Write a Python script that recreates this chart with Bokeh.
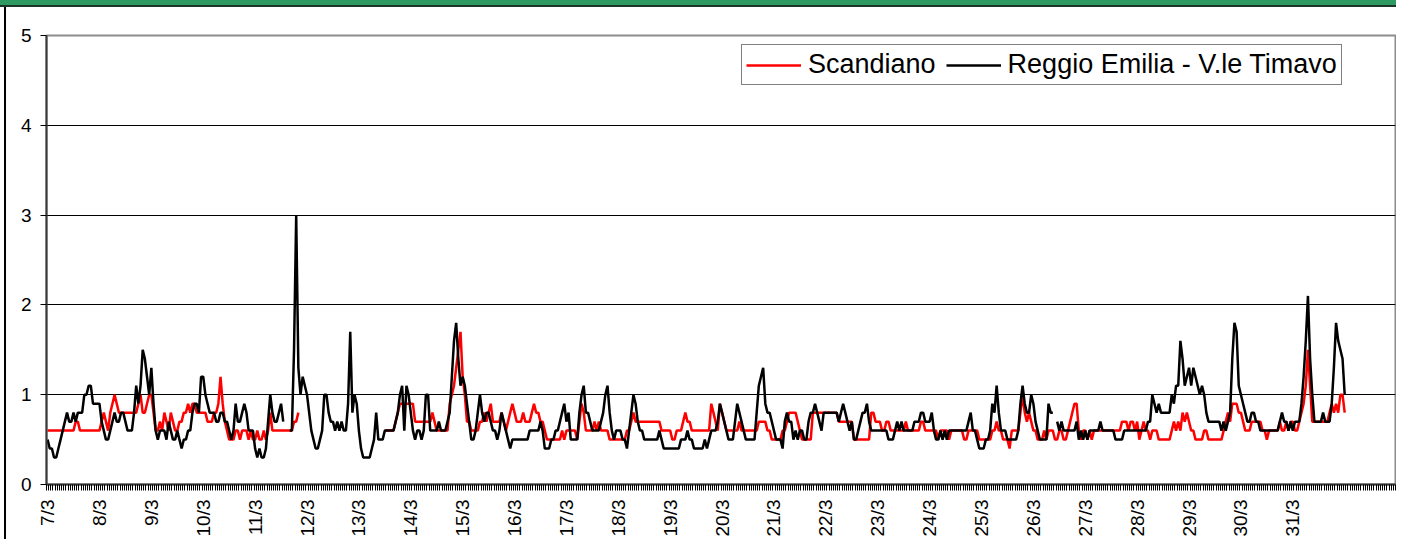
import math
from bokeh.plotting import figure
from bokeh.models import Range1d, FixedTicker, Legend, LegendItem
from bokeh.embed import file_html
from bokeh.resources import INLINE

NA = float("nan")

# one label per day (each day = 24 hourly categories)
day_labels = ["7/3", "8/3", "9/3", "10/3", "11/3", "12/3", "13/3", "14/3", "15/3",
              "16/3", "17/3", "18/3", "19/3", "20/3", "21/3", "22/3", "23/3", "24/3",
              "25/3", "26/3", "27/3", "28/3", "29/3", "30/3", "31/3"]
n_categories = 624

# hourly values, one line per day
scandiano = [
    0.6,0.6,0.6,0.6,0.6,0.6,0.6,0.6,0.6,0.6,0.6,0.6,0.6,0.7,0.7,0.6,0.6,0.6,0.6,0.6,0.6,0.6,0.6,0.6,
    0.6,0.7,0.8,0.7,0.6,0.8,0.9,1.0,0.9,0.8,0.8,0.8,0.8,0.8,0.8,0.8,0.8,0.8,0.9,1.0,0.8,0.8,0.9,1.0,
    1.0,0.8,0.6,0.6,0.7,0.6,0.8,0.7,0.6,0.8,0.7,0.6,0.6,0.7,0.7,0.8,0.8,0.9,0.8,0.9,0.9,0.8,0.8,0.8,
    0.8,0.8,0.7,0.7,0.7,0.8,0.8,0.9,1.2,0.9,0.7,0.6,0.5,0.5,0.5,0.6,0.6,0.5,0.6,0.6,0.6,0.5,0.6,0.5,
    0.5,0.6,0.5,0.5,0.6,0.5,0.6,0.8,0.6,0.6,0.6,0.6,0.6,0.6,0.6,0.6,0.6,0.6,0.7,0.7,0.8,NA,NA,NA,
    NA,NA,NA,NA,NA,NA,NA,NA,NA,NA,NA,NA,NA,NA,NA,NA,NA,NA,NA,NA,NA,NA,NA,NA,
    NA,NA,NA,NA,NA,NA,NA,NA,NA,NA,NA,NA,0.6,0.6,0.6,0.6,0.6,0.7,0.8,0.9,0.9,0.9,0.9,0.9,
    0.9,0.9,0.7,0.7,0.7,0.7,0.7,0.7,0.7,0.7,0.8,0.7,0.6,0.6,0.6,0.6,0.6,0.6,0.9,1.0,1.1,1.3,1.5,1.7,
    1.2,1.0,0.7,0.7,0.6,0.6,0.6,0.6,0.7,0.7,0.8,0.7,0.8,0.9,0.7,0.7,0.7,0.7,0.8,0.7,0.6,0.7,0.8,0.9,
    0.8,0.7,0.7,0.7,0.8,0.7,0.7,0.7,0.8,0.9,0.8,0.8,0.7,0.7,0.6,0.5,0.5,0.5,0.5,0.5,0.5,0.5,0.6,0.5,
    0.6,0.6,0.6,0.6,0.6,0.5,0.7,0.9,0.8,0.6,0.6,0.6,0.6,0.7,0.6,0.7,0.6,0.6,0.6,0.6,0.5,0.5,0.5,0.5,
    0.5,0.5,0.5,0.5,0.6,0.6,0.7,0.8,0.7,0.7,0.7,0.7,0.7,0.7,0.7,0.7,0.7,0.7,0.7,0.7,0.6,0.6,0.6,0.6,
    0.6,0.5,0.5,0.6,0.6,0.6,0.7,0.8,0.7,0.7,0.6,0.6,0.6,0.6,0.6,0.6,0.6,0.6,0.6,0.9,0.8,0.7,0.6,0.9,
    0.8,0.7,0.6,0.6,0.6,0.6,0.6,0.6,0.7,0.6,0.6,0.6,0.6,0.6,0.6,0.6,0.6,0.7,0.7,0.7,0.7,0.6,0.6,0.5,
    0.5,0.5,0.5,0.5,0.6,0.6,0.7,0.8,0.8,0.8,0.8,0.7,0.6,0.5,0.5,0.5,0.5,0.5,0.8,0.8,0.8,0.8,0.8,0.8,
    0.8,0.8,0.8,0.8,0.8,0.8,0.7,0.7,0.7,0.7,0.7,0.7,0.7,0.5,0.5,0.5,0.5,0.5,0.5,0.5,0.5,0.8,0.8,0.7,
    0.7,0.7,0.6,0.6,0.7,0.7,0.6,0.6,0.6,0.6,0.6,0.6,0.6,0.7,0.6,0.6,0.6,0.6,0.6,0.6,0.7,0.7,0.6,0.6,
    0.6,0.6,0.6,0.6,0.5,0.6,0.6,0.6,0.6,0.5,0.6,0.6,0.6,0.6,0.6,0.6,0.5,0.5,0.6,0.6,0.6,0.6,0.6,0.5,
    0.5,0.5,0.5,0.5,0.5,0.6,0.6,0.7,0.6,0.6,0.5,0.5,0.5,0.4,0.6,0.6,0.6,0.6,0.8,1.0,0.8,0.7,0.8,0.7,
    0.6,0.6,0.5,0.5,0.5,0.6,0.5,0.6,0.6,0.6,0.5,0.5,0.6,0.6,0.5,0.5,0.6,0.7,0.8,0.9,0.9,0.6,0.5,0.6,
    0.6,0.5,0.6,0.5,0.6,0.6,0.6,0.6,0.6,0.6,0.6,0.6,0.6,0.6,0.6,0.6,0.6,0.7,0.7,0.7,0.6,0.7,0.7,0.6,
    0.7,0.5,0.6,0.7,0.6,0.6,0.5,0.6,0.6,0.6,0.5,0.5,0.5,0.5,0.5,0.5,0.6,0.7,0.6,0.7,0.6,0.8,0.7,0.8,
    0.7,0.6,0.6,0.5,0.5,0.5,0.5,0.6,0.6,0.5,0.5,0.5,0.5,0.5,0.5,0.5,0.6,0.7,0.8,0.7,0.9,0.9,0.9,0.8,
    0.8,0.7,0.6,0.6,0.6,0.7,0.7,0.7,0.7,0.7,0.6,0.6,0.5,0.6,0.6,0.6,0.6,0.6,0.7,0.6,0.6,0.7,0.6,0.7,
    0.7,0.6,0.6,0.7,0.8,0.9,1.1,1.5,1.1,0.7,0.7,0.7,0.7,0.7,0.7,0.7,0.7,0.8,0.9,0.8,0.9,0.8,1.0,1.0,
    0.8,
]

reggio_timavo = [
    0.5,0.4,0.4,0.3,0.3,0.4,0.5,0.6,0.7,0.8,0.7,0.7,0.8,0.7,0.8,0.8,0.8,1.0,1.0,1.1,1.1,0.9,0.9,0.9,
    0.9,0.7,0.6,0.5,0.5,0.6,0.7,0.8,0.7,0.7,0.8,0.8,0.7,0.6,0.6,0.6,0.8,1.1,0.9,1.1,1.5,1.4,1.2,1.0,
    1.3,0.9,0.6,0.5,0.6,0.6,0.6,0.5,0.7,0.6,0.5,0.5,0.6,0.5,0.4,0.5,0.5,0.6,0.6,0.8,0.9,0.9,0.8,1.2,
    1.2,1.0,0.9,0.8,0.8,0.8,0.7,0.7,0.8,0.8,0.7,0.7,0.6,0.5,0.6,0.9,0.7,0.7,0.8,0.9,0.8,0.6,0.6,0.6,
    0.4,0.3,0.4,0.3,0.3,0.4,0.7,1.0,0.8,0.7,0.7,0.8,0.9,0.7,NA,NA,0.6,0.6,1.5,3.0,1.3,1.0,1.2,1.1,
    1.0,0.8,0.6,0.5,0.4,0.4,0.5,0.6,1.0,1.0,0.8,0.7,0.7,0.6,0.7,0.6,0.7,0.6,0.6,0.9,1.7,0.8,1.0,0.9,
    0.6,0.4,0.3,0.3,0.3,0.3,0.4,0.5,0.8,0.5,0.5,0.5,0.6,0.6,0.6,0.6,0.6,0.7,0.8,1.0,1.1,0.6,1.1,1.0,
    0.8,0.6,0.5,0.6,0.6,0.5,0.6,1.0,1.0,0.6,0.6,0.6,0.6,0.7,0.6,0.6,0.6,0.7,0.8,1.2,1.6,1.8,1.4,1.1,
    1.2,1.1,0.9,0.7,0.5,0.5,0.6,0.8,1.0,0.8,0.7,0.8,0.8,0.7,0.6,0.6,0.5,0.6,0.8,0.7,0.6,0.5,0.4,0.5,
    0.5,0.5,0.5,0.5,0.5,0.5,0.5,0.6,0.6,0.6,0.6,0.6,0.7,0.6,0.4,0.4,0.4,0.5,0.5,0.6,0.6,0.7,0.8,0.9,
    0.7,0.8,0.5,0.5,0.5,0.5,0.8,1.0,1.1,0.8,0.8,0.7,0.6,0.6,0.6,0.6,0.7,0.8,1.0,1.1,0.8,0.6,0.5,0.6,
    0.6,0.6,0.5,0.5,0.4,0.6,0.8,1.0,0.9,0.7,0.6,0.6,0.5,0.5,0.5,0.5,0.5,0.5,0.5,0.6,0.5,0.4,0.4,0.4,
    0.4,0.4,0.4,0.4,0.4,0.5,0.5,0.5,0.6,0.5,0.5,0.4,0.4,0.4,0.4,0.4,0.5,0.4,0.5,0.6,0.6,0.6,0.7,0.9,
    0.8,0.7,0.6,0.5,0.5,0.5,0.7,0.9,0.8,0.7,0.6,0.5,0.5,0.5,0.5,0.5,0.8,1.1,1.2,1.3,0.9,0.8,0.8,0.7,
    0.6,0.5,0.5,0.5,0.4,0.7,0.8,0.7,0.7,0.5,0.6,0.5,0.6,0.6,0.5,0.5,0.7,0.8,0.8,0.9,0.8,0.7,0.6,0.8,
    0.8,0.8,0.8,0.8,0.8,0.8,0.7,0.8,0.9,0.8,0.7,0.6,0.7,0.5,0.5,0.6,0.7,0.8,0.8,0.9,0.7,0.6,0.6,0.6,
    0.6,0.6,0.6,0.6,0.6,0.5,0.5,0.5,0.6,0.7,0.6,0.7,0.6,0.6,0.6,0.6,0.6,0.7,0.7,0.7,0.8,0.8,0.7,0.7,
    0.7,0.8,0.6,0.5,0.5,0.6,0.5,0.6,0.5,0.6,0.6,0.6,0.6,0.6,0.6,0.6,0.6,0.6,0.7,0.8,0.6,0.6,0.5,0.4,
    0.4,0.4,0.5,0.5,0.6,0.9,0.8,1.1,0.8,0.6,0.6,0.6,0.5,0.5,0.5,0.5,0.5,0.6,0.9,1.1,0.9,0.8,0.8,1.0,
    0.9,0.7,0.6,0.5,0.5,0.5,0.5,0.9,0.8,0.8,NA,0.7,0.6,0.7,0.6,0.6,0.6,0.6,0.6,0.6,0.7,0.5,0.6,0.5,
    0.6,0.5,0.6,0.6,0.6,0.6,0.6,0.7,0.6,0.6,0.6,0.6,0.6,0.6,0.5,0.5,0.5,0.5,0.6,0.6,0.6,0.6,0.6,0.6,
    0.6,0.6,0.6,0.6,0.6,0.7,0.7,1.0,0.9,0.8,0.9,0.8,0.8,0.8,0.8,0.8,1.0,0.9,1.1,1.1,1.6,1.4,1.1,1.2,
    1.3,1.1,1.3,1.2,1.1,1.0,1.1,1.0,0.8,0.7,0.7,0.7,0.7,0.7,0.7,0.6,0.7,0.6,0.7,0.8,1.4,1.8,1.7,1.1,
    1.0,0.9,0.8,0.7,0.7,0.8,0.8,0.7,0.7,0.6,0.6,0.6,0.6,0.6,0.6,0.6,0.6,0.6,0.7,0.8,0.7,0.7,0.6,0.7,
    0.6,0.7,0.7,0.7,0.9,1.2,1.6,2.1,1.4,1.0,0.7,0.7,0.7,0.7,0.8,0.7,0.7,0.7,0.9,1.3,1.8,1.6,1.5,1.4,
    1.0,
]

hours = list(range(len(scandiano)))
FONT = "Liberation Sans"

p = figure(width=1396, height=539, output_backend="svg", toolbar_location=None,
           x_range=Range1d(-0.5, n_categories - 0.5), y_range=Range1d(0, 5),
           min_border_left=46, min_border_right=1, min_border_top=35, min_border_bottom=54,
           background_fill_color="white", border_fill_color="white", border_fill_alpha=0.0)

# header band and panel border of the original sheet, drawn behind the transparent border area
p.styles = {
    "background": ("linear-gradient(to bottom, #2e9a62 0px, #2e9a62 5px, #1d3526 5px, "
                   "#1d3526 7px, rgba(0,0,0,0) 7px), "
                   "linear-gradient(to right, rgba(0,0,0,0) 4px, #000000 4px, #000000 6px, "
                   "rgba(0,0,0,0) 6px), #ffffff"),
}

p.outline_line_color = "#8c8c8c"
p.outline_line_width = 2

r_sc = p.line(hours, scandiano, line_color="#ff0000", line_width=2.5)
r_re = p.line(list(range(len(reggio_timavo))), reggio_timavo, line_color="#000000", line_width=2.5)

# x axis: hourly tick marks, one label per day
xa = p.xaxis[0]
major = [24 * i for i in range(len(day_labels))]
minor = [i - 0.5 for i in range(n_categories + 1)]
xa.ticker = FixedTicker(ticks=major, minor_ticks=minor)
xa.major_label_overrides = {24 * i: lbl for i, lbl in enumerate(day_labels)}
xa.major_label_orientation = math.pi / 2
xa.major_tick_in = 0
xa.major_tick_out = 0
xa.minor_tick_in = 0
xa.minor_tick_out = 6
xa.minor_tick_line_color = "#000000"
xa.minor_tick_line_width = 1
xa.major_label_standoff = 9
xa.major_label_text_font = FONT
xa.major_label_text_font_size = "19px"
xa.major_label_text_color = "#000000"
xa.axis_line_color = "#3a3a3a"
xa.axis_line_width = 2

ya = p.yaxis[0]
ya.ticker = FixedTicker(ticks=[0, 1, 2, 3, 4, 5], minor_ticks=[])
ya.major_tick_in = 0
ya.major_tick_out = 6
ya.major_tick_line_color = "#000000"
ya.minor_tick_line_color = None
ya.major_label_standoff = 9
ya.major_label_text_font = FONT
ya.major_label_text_font_size = "19px"
ya.major_label_text_color = "#000000"
ya.axis_line_color = "#3a3a3a"
ya.axis_line_width = 2

p.xgrid.grid_line_color = None
p.ygrid.ticker = FixedTicker(ticks=[1, 2, 3, 4])
p.ygrid.grid_line_color = "#000000"
p.ygrid.grid_line_width = 1

legend = Legend(items=[LegendItem(label="Scandiano", renderers=[r_sc]),
                       LegendItem(label="Reggio Emilia - V.le Timavo", renderers=[r_re])],
                orientation="horizontal", location=(695, 399))
legend.label_text_font = FONT
legend.label_text_font_size = "27px"
legend.label_text_color = "#000000"
legend.glyph_width = 55
legend.glyph_height = 24
legend.label_height = 24
legend.label_standoff = 7
legend.spacing = 10
legend.padding = 4
legend.margin = 0
legend.border_line_color = "#000000"
legend.border_line_width = 1
legend.background_fill_color = "white"
legend.background_fill_alpha = 1.0
p.add_layout(legend)

open("out.html", "w").write(file_html(p, INLINE))
